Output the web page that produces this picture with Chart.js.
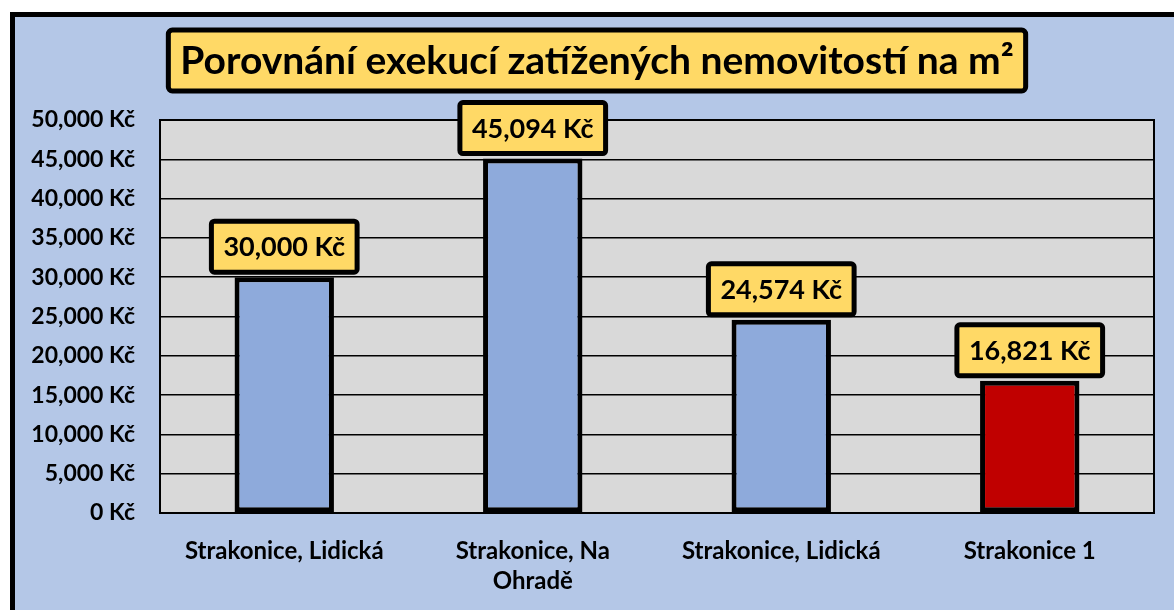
<!DOCTYPE html>
<html>
<head>
<meta charset="utf-8">
<script src="https://cdn.jsdelivr.net/npm/chart.js@4"></script>
<style>
  html, body { margin: 0; padding: 0; background: #fff; overflow: hidden; }
  #frame {
    position: absolute; left: 10px; top: 12px;
    width: 1250px; height: 700px;
    border: 5px solid #000; background: #b4c7e7;
  }
  #wrap { position: absolute; left: 0; top: 0; width: 1174px; height: 610px; }
</style>
</head>
<body>
<div id="frame"></div>
<div id="wrap"><canvas id="chart" width="1174" height="610"></canvas></div>
<script>
const chartTitle = "Porovnání exekucí zatížených nemovitostí na m²"
const categories = ["Strakonice, Lidická", ["Strakonice, Na", "Ohradě"], "Strakonice, Lidická", "Strakonice 1"]
const prices = [30000, 45094, 24574, 16821]
const barColors = ['#8eaadb', '#8eaadb', '#8eaadb', '#c00000']
const yMax = 50000
const yStep = 5000

const FONT = 'Lato, "Open Sans", sans-serif'

function kc(v) {
    return Number(v).toLocaleString('en-US') + ' Kč'
}

function roundBox(ctx, x, y, w, h, r, fill, lw) {
    ctx.beginPath()
    ctx.roundRect(x, y, w, h, r)
    ctx.fillStyle = fill
    ctx.fill()
    ctx.lineWidth = lw
    ctx.strokeStyle = '#000'
    ctx.stroke()
}

// grey plot area + black frame round it
const plotArea = {
    id: 'plotArea',
    beforeDraw(chart) {
        const a = chart.chartArea
        const ctx = chart.ctx
        ctx.save()
        ctx.fillStyle = '#d9d9d9'
        ctx.fillRect(a.left, a.top, a.right - a.left, a.bottom - a.top)
        ctx.restore()
    },
    beforeDatasetsDraw(chart) {
        const a = chart.chartArea
        const ctx = chart.ctx
        ctx.save()
        ctx.lineWidth = 2
        ctx.strokeStyle = '#000'
        ctx.strokeRect(a.left, a.top, a.right - a.left, a.bottom - a.top)
        ctx.restore()
    }
}

// yellow title box
const titleBox = {
    id: 'titleBox',
    afterDraw(chart) {
        const ctx = chart.ctx
        ctx.save()
        ctx.font = 'bold 39px ' + FONT
        const w = ctx.measureText(chartTitle).width + 24
        const cx = chart.width / 2 + 10
        roundBox(ctx, cx - w / 2, 30, w, 61, 4, '#ffd966', 5)
        ctx.fillStyle = '#000'
        ctx.textAlign = 'center'
        ctx.textBaseline = 'middle'
        ctx.fillText(chartTitle, cx, 61)
        ctx.restore()
    }
}

// value labels in yellow boxes above the bars
const valueBoxes = {
    id: 'valueBoxes',
    afterDatasetsDraw(chart) {
        const ctx = chart.ctx
        const meta = chart.getDatasetMeta(0)
        ctx.save()
        ctx.font = 'bold 27px ' + FONT
        meta.data.forEach(function(bar, i) {
            const text = kc(prices[i])
            const w = ctx.measureText(text).width + 24
            const h = 51
            const bottom = bar.y - 5
            roundBox(ctx, bar.x - w / 2, bottom - h, w, h, 3, '#ffd966', 5)
            ctx.fillStyle = '#000'
            ctx.textAlign = 'center'
            ctx.textBaseline = 'middle'
            ctx.fillText(text, bar.x, bottom - h / 2 + 1)
        })
        ctx.restore()
    }
}

let ctx = document.getElementById('chart').getContext('2d')
let chart = new Chart(ctx, {
    type: 'bar',
    data: {
        labels: categories,
        datasets: [{
            data: prices,
            backgroundColor: barColors,
            borderColor: '#000',
            borderWidth: 5,
            borderSkipped: false,
            categoryPercentage: 1,
            barPercentage: 0.4
        }]
    },
    options: {
        responsive: false,
        animation: false,
        layout: { padding: { left: 0, right: 20, top: 120, bottom: 0 } },
        plugins: {
            legend: { display: false },
            tooltip: { enabled: false },
            title: { display: false }
        },
        scales: {
            x: {
                grid: { display: false },
                border: { display: false },
                ticks: {
                    color: '#000',
                    padding: 15,
                    maxRotation: 0,
                    autoSkip: false,
                    font: { family: FONT, size: 24, weight: 'bold', lineHeight: 1.25 }
                },
                afterFit(scale) { scale.height = 97 }
            },
            y: {
                min: 0,
                max: yMax,
                grid: { color: '#000', lineWidth: 1.5, drawTicks: false },
                border: { display: false },
                ticks: {
                    stepSize: yStep,
                    color: '#000',
                    padding: 25,
                    font: { family: FONT, size: 23, weight: 'bold' },
                    callback: function(v) { return kc(v) }
                },
                afterFit(scale) { scale.width = 160 }
            }
        }
    },
    plugins: [plotArea, valueBoxes, titleBox]
})
</script>
</body>
</html>
